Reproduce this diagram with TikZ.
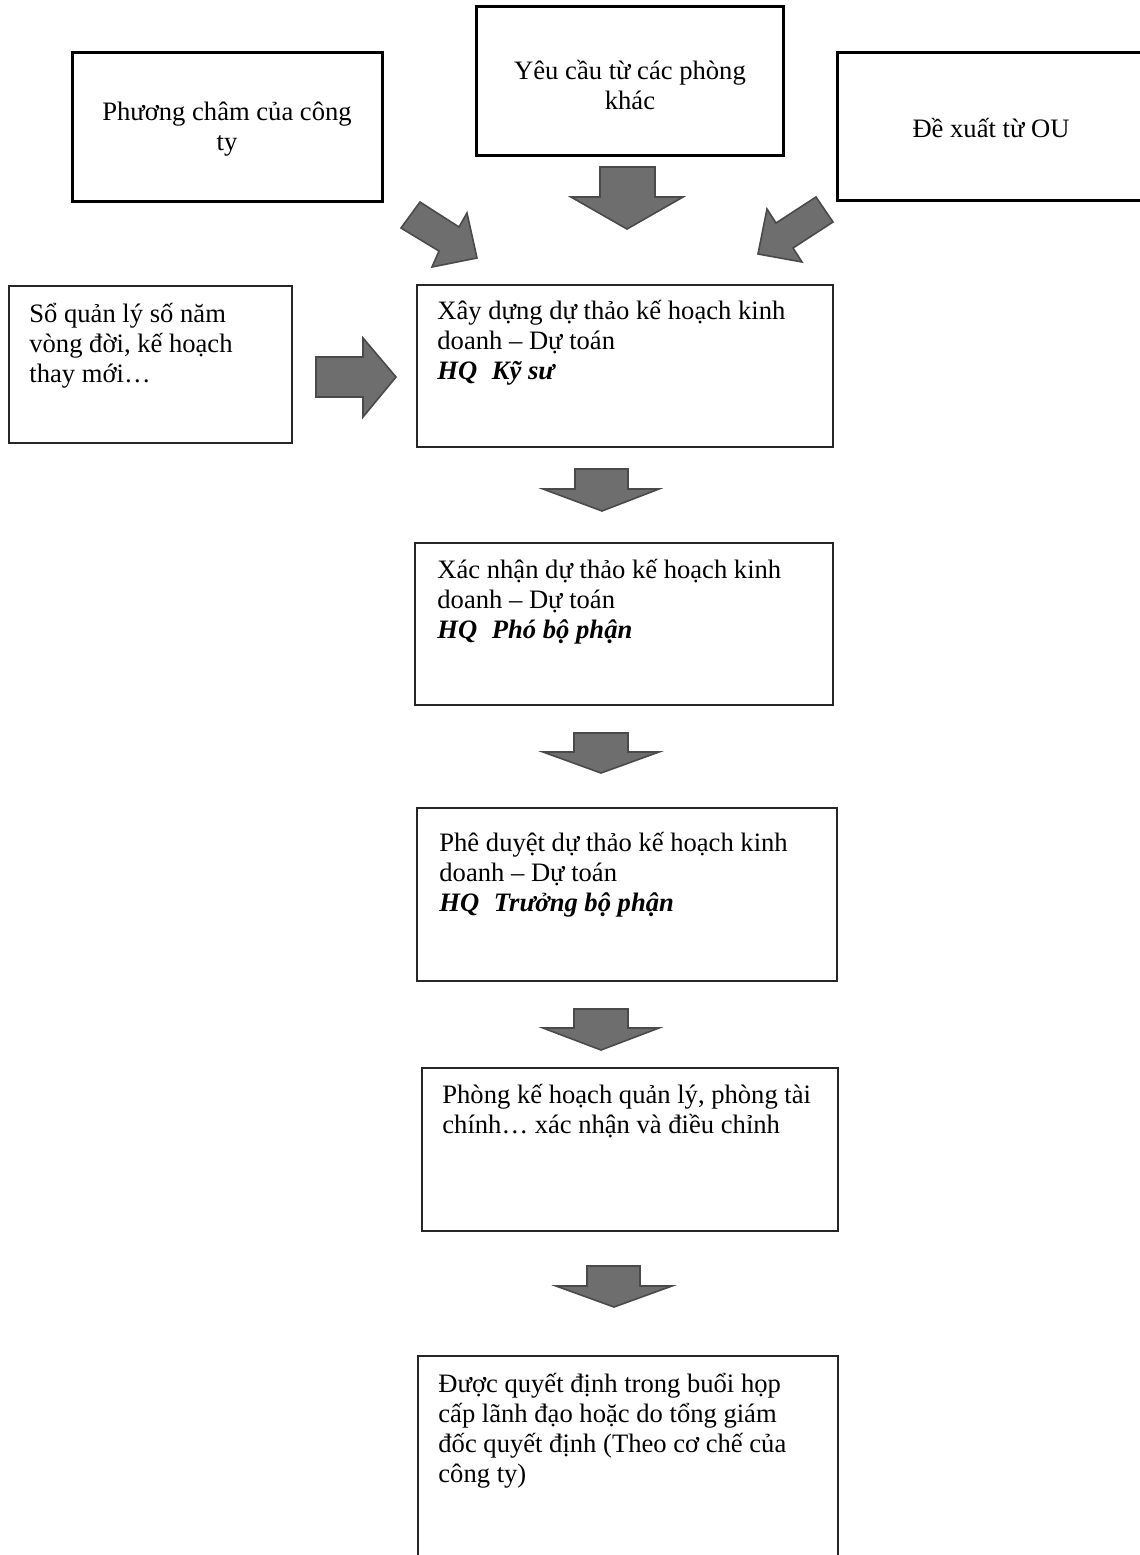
\documentclass[tikz,border=0pt]{standalone}
\usepackage{fontspec}
\setmainfont{Liberation Serif}
\usetikzlibrary{fit}
\definecolor{arrowgray}{HTML}{6E6E6E}
\definecolor{arrowedge}{HTML}{4A4A4A}
\begin{document}
\begin{tikzpicture}[x=0.5pt,y=-0.5pt,
  heavybox/.style={draw=black, line width=1.5pt, inner sep=0pt},
  stepbox/.style={draw=black!85, line width=0.75pt, inner sep=0pt},
  label text/.style={inner sep=0pt, align=left, font=\fontsize{13.3}{15}\selectfont},
  blockarrow/.style={fill=arrowgray, draw=arrowedge, line width=0.8pt, line join=miter}]
\useasboundingbox (0,0) rectangle (1140,1555);
\clip (0,0) rectangle (1140,1555);

% input boxes
\node[heavybox, fit={(72,52)(382,201)}] (guide) {};
\node[heavybox, fit={(476,6)(783,155)}] (requests) {};
\node[heavybox, fit={(837,52)(1170,200)}] (proposal) {};
\node[stepbox, fit={(9,286)(292,443)}] (ledger) {};

% process steps
\node[stepbox, fit={(417,285)(833,447)}] (draft) {};
\node[stepbox, fit={(415,543)(833,705)}] (confirm) {};
\node[stepbox, fit={(417,808)(837,981)}] (approve) {};
\node[stepbox, fit={(422,1068)(838,1231)}] (adjust) {};
\node[stepbox, fit={(418,1356)(838,1590)}] (decide) {};

% texts (each placed at the baseline of its last line)
\node[label text, align=center, anchor=base] (guidetxt) at (227,150) {Phương châm của công\\ty};
\node[label text, align=center, anchor=base] (reqtxt) at (630,109) {Yêu cầu từ các phòng\\khác};
\node[label text, anchor=base] (proptxt) at (991,137) {Đề xuất từ OU};
\node[label text, anchor=base west] (ledgertxt) at (29,382) {Sổ quản lý số năm\\vòng đời, kế hoạch\\thay mới…};
\node[label text, anchor=base west] (drafttxt) at (437,379) {Xây dựng dự thảo kế hoạch kinh\\doanh – Dự toán\\\textbf{\textit{HQ\hspace{0.55em}Kỹ sư}}};
\node[label text, anchor=base west] (confirmtxt) at (437,638) {Xác nhận dự thảo kế hoạch kinh\\doanh – Dự toán\\\textbf{\textit{HQ\hspace{0.55em}Phó bộ phận}}};
\node[label text, anchor=base west] (approvetxt) at (439,911) {Phê duyệt dự thảo kế hoạch kinh\\doanh – Dự toán\\\textbf{\textit{HQ\hspace{0.55em}Trưởng bộ phận}}};
\node[label text, anchor=base west] (adjusttxt) at (442,1133) {Phòng kế hoạch quản lý, phòng tài\\chính… xác nhận và điều chỉnh};
\node[label text, anchor=base west] (decidetxt) at (438,1482) {Được quyết định trong buổi họp\\cấp lãnh đạo hoặc do tổng giám\\đốc quyết định (Theo cơ chế của\\công ty)};

% block arrows into the first step
\draw[blockarrow] (420,202) -- (459,227) -- (467,213) -- (477,258) -- (432,267) -- (439,251) -- (401,228) -- cycle;
\draw[blockarrow] (600,167) -- (655,167) -- (655,197) -- (683,197) -- (627,229) -- (571,197) -- (600,197) -- cycle;
\draw[blockarrow] (816,197) -- (776,223) -- (767,209) -- (758,254) -- (802,262) -- (793,248) -- (833,222) -- cycle;
\draw[blockarrow] (316,357) -- (363,357) -- (363,338) -- (396,377) -- (363,417) -- (363,397) -- (316,397) -- cycle;

% block arrows between steps
\draw[blockarrow] (575,469) -- (628,469) -- (628,489) -- (659,489) -- (602,511) -- (543,489) -- (575,489) -- cycle;
\draw[blockarrow] (574,733) -- (628,733) -- (628,752) -- (659,752) -- (601,773) -- (543,752) -- (574,752) -- cycle;
\draw[blockarrow] (574,1009) -- (628,1009) -- (628,1028) -- (659,1028) -- (601,1050) -- (543,1028) -- (574,1028) -- cycle;
\draw[blockarrow] (587,1266) -- (640,1266) -- (640,1286) -- (672,1286) -- (614,1307) -- (556,1286) -- (587,1286) -- cycle;
\end{tikzpicture}
\end{document}
